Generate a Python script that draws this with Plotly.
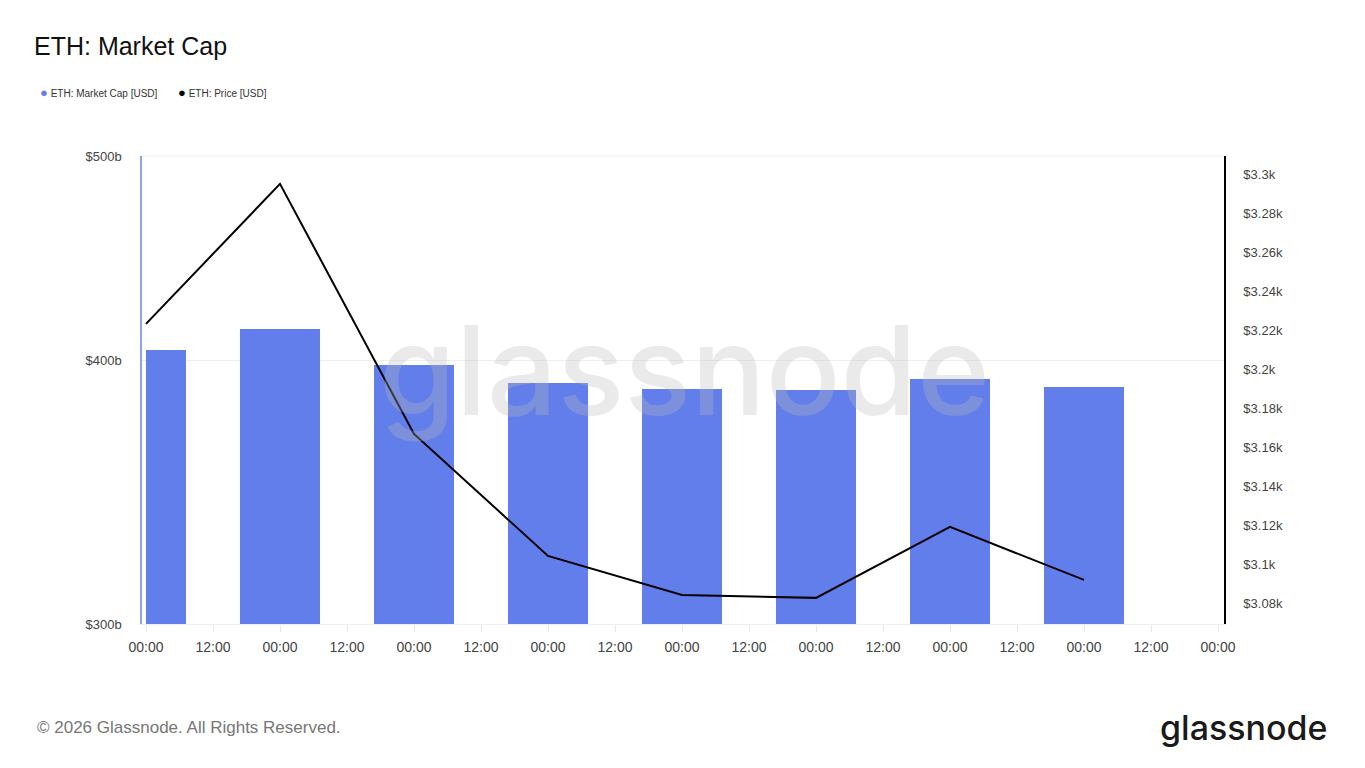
import plotly.graph_objects as go
import pandas as pd
import math

# ---- data ----
dates = pd.date_range("2026-01-01", periods=8, freq="D")
market_cap_b = [404.8, 413.8, 397.8, 390.1, 387.7, 387.3, 391.8, 388.6]   # USD billions
price_usd = [3223.6, 3295.4, 3167.2, 3104.6, 3084.6, 3083.1, 3119.5, 3092.3]

left_ticks = [300e9, 400e9, 500e9]
left_labels = ["$300b", "$400b", "$500b"]
right_ticks = [3080, 3100, 3120, 3140, 3160, 3180, 3200, 3220, 3240, 3260, 3280, 3300]
right_labels = ["$3.08k", "$3.1k", "$3.12k", "$3.14k", "$3.16k", "$3.18k", "$3.2k",
                "$3.22k", "$3.24k", "$3.26k", "$3.28k", "$3.3k"]

DAY = 86400000
bar_w = 0.6 * DAY
widths = [bar_w / 2] + [bar_w] * 7
offsets = [0] + [-bar_w / 2] * 7

BLUE = "#627EEA"
FONT = "Liberation Sans, Arial, sans-serif"

# plot area in pixels
L, R, T, B = 142, 1224, 156, 624
PW, PH = R - L, B - T


def px_x(x):
    return (x - L) / PW


def px_y(y):
    return (B - y) / PH


fig = go.Figure()
fig.add_trace(go.Bar(
    x=dates, y=[v * 1e9 for v in market_cap_b], width=widths, offset=offsets,
    marker=dict(color=BLUE, line=dict(width=0)), showlegend=False,
    name="ETH: Market Cap [USD]", yaxis="y"))
fig.add_trace(go.Scatter(
    x=dates, y=price_usd, mode="lines", line=dict(color="#000000", width=2),
    showlegend=False, name="ETH: Price [USD]", yaxis="y2"))

x0 = dates[0] - pd.Timedelta(hours=24 * 4 / 134)
x1 = dates[0] + pd.Timedelta(days=8) + pd.Timedelta(hours=24 * 6 / 134)

fig.update_layout(
    width=1365, height=768,
    margin=dict(l=L, r=1365 - R, t=T, b=768 - B),
    paper_bgcolor="white", plot_bgcolor="white",
    font=dict(family=FONT, color="#444", size=13),
    bargap=0, showlegend=False,
    title=dict(text="ETH: Market Cap", x=34 / 1365, xanchor="left", xref="container",
               y=1 - 46 / 768, yanchor="middle", yref="container",
               font=dict(size=25, color="#111", family=FONT)),
    xaxis=dict(type="date", range=[x0, x1], dtick=12 * 3600 * 1000,
               tick0=dates[0], tickformat="%H:%M", showgrid=False,
               ticks="outside", ticklen=7, tickcolor="#e8e8e8",
               showline=True, linecolor="#eeeeee", linewidth=1,
               ticklabelstandoff=3,
               tickfont=dict(size=14, color="#444"), zeroline=False),
    yaxis=dict(type="log", range=[math.log10(300e9), math.log10(500e9)],
               tickvals=left_ticks, ticktext=left_labels,
               showgrid=True, gridcolor="#eeeeee", gridwidth=1,
               showline=True, linecolor="#8fa2ee", linewidth=1.5,
               ticks="", ticklabelstandoff=16,
               tickfont=dict(size=13, color="#444"), zeroline=False),
    yaxis2=dict(overlaying="y", side="right", range=[3069.7, 3309.7],
                tickvals=right_ticks, ticktext=right_labels,
                showgrid=False, showline=True, linecolor="#000000", linewidth=1.5,
                ticks="", ticklabelstandoff=15,
                tickfont=dict(size=13, color="#444"), zeroline=False),
    shapes=[dict(type="line", xref="paper", yref="paper", x0=0, x1=1, y0=1, y1=1,
                 line=dict(color="#eeeeee", width=1), layer="below")],
)

# legend (circle markers as text)
fig.add_annotation(text="<span style='color:%s;font-size:13px'>●</span> ETH: Market Cap [USD]" % BLUE,
                   xref="paper", yref="paper", x=px_x(38), xanchor="left",
                   y=px_y(92), yanchor="middle", showarrow=False,
                   font=dict(size=10, color="#333", family=FONT))
fig.add_annotation(text="<span style='color:#000;font-size:13px'>●</span> ETH: Price [USD]",
                   xref="paper", yref="paper", x=px_x(176), xanchor="left",
                   y=px_y(92), yanchor="middle", showarrow=False,
                   font=dict(size=10, color="#333", family=FONT))

# watermark
fig.add_annotation(text="glassnode", xref="paper", yref="paper", x=px_x(684), y=px_y(370),
                   showarrow=False, font=dict(size=124, color="rgba(185,185,185,0.30)",
                                              family="Inter, sans-serif", weight=500))
# footer
fig.add_annotation(text="© 2026 Glassnode. All Rights Reserved.", xref="paper", yref="paper",
                   x=px_x(35), xanchor="left", y=px_y(727), yanchor="middle",
                   showarrow=False, font=dict(size=17, color="#777", family=FONT))
fig.add_annotation(text="glassnode", xref="paper", yref="paper",
                   x=px_x(1330), xanchor="right", y=px_y(727), yanchor="middle",
                   showarrow=False, font=dict(size=34, color="#1a1a1a",
                                              family="Inter, sans-serif", weight=500))

fig.write_html("out.html")
